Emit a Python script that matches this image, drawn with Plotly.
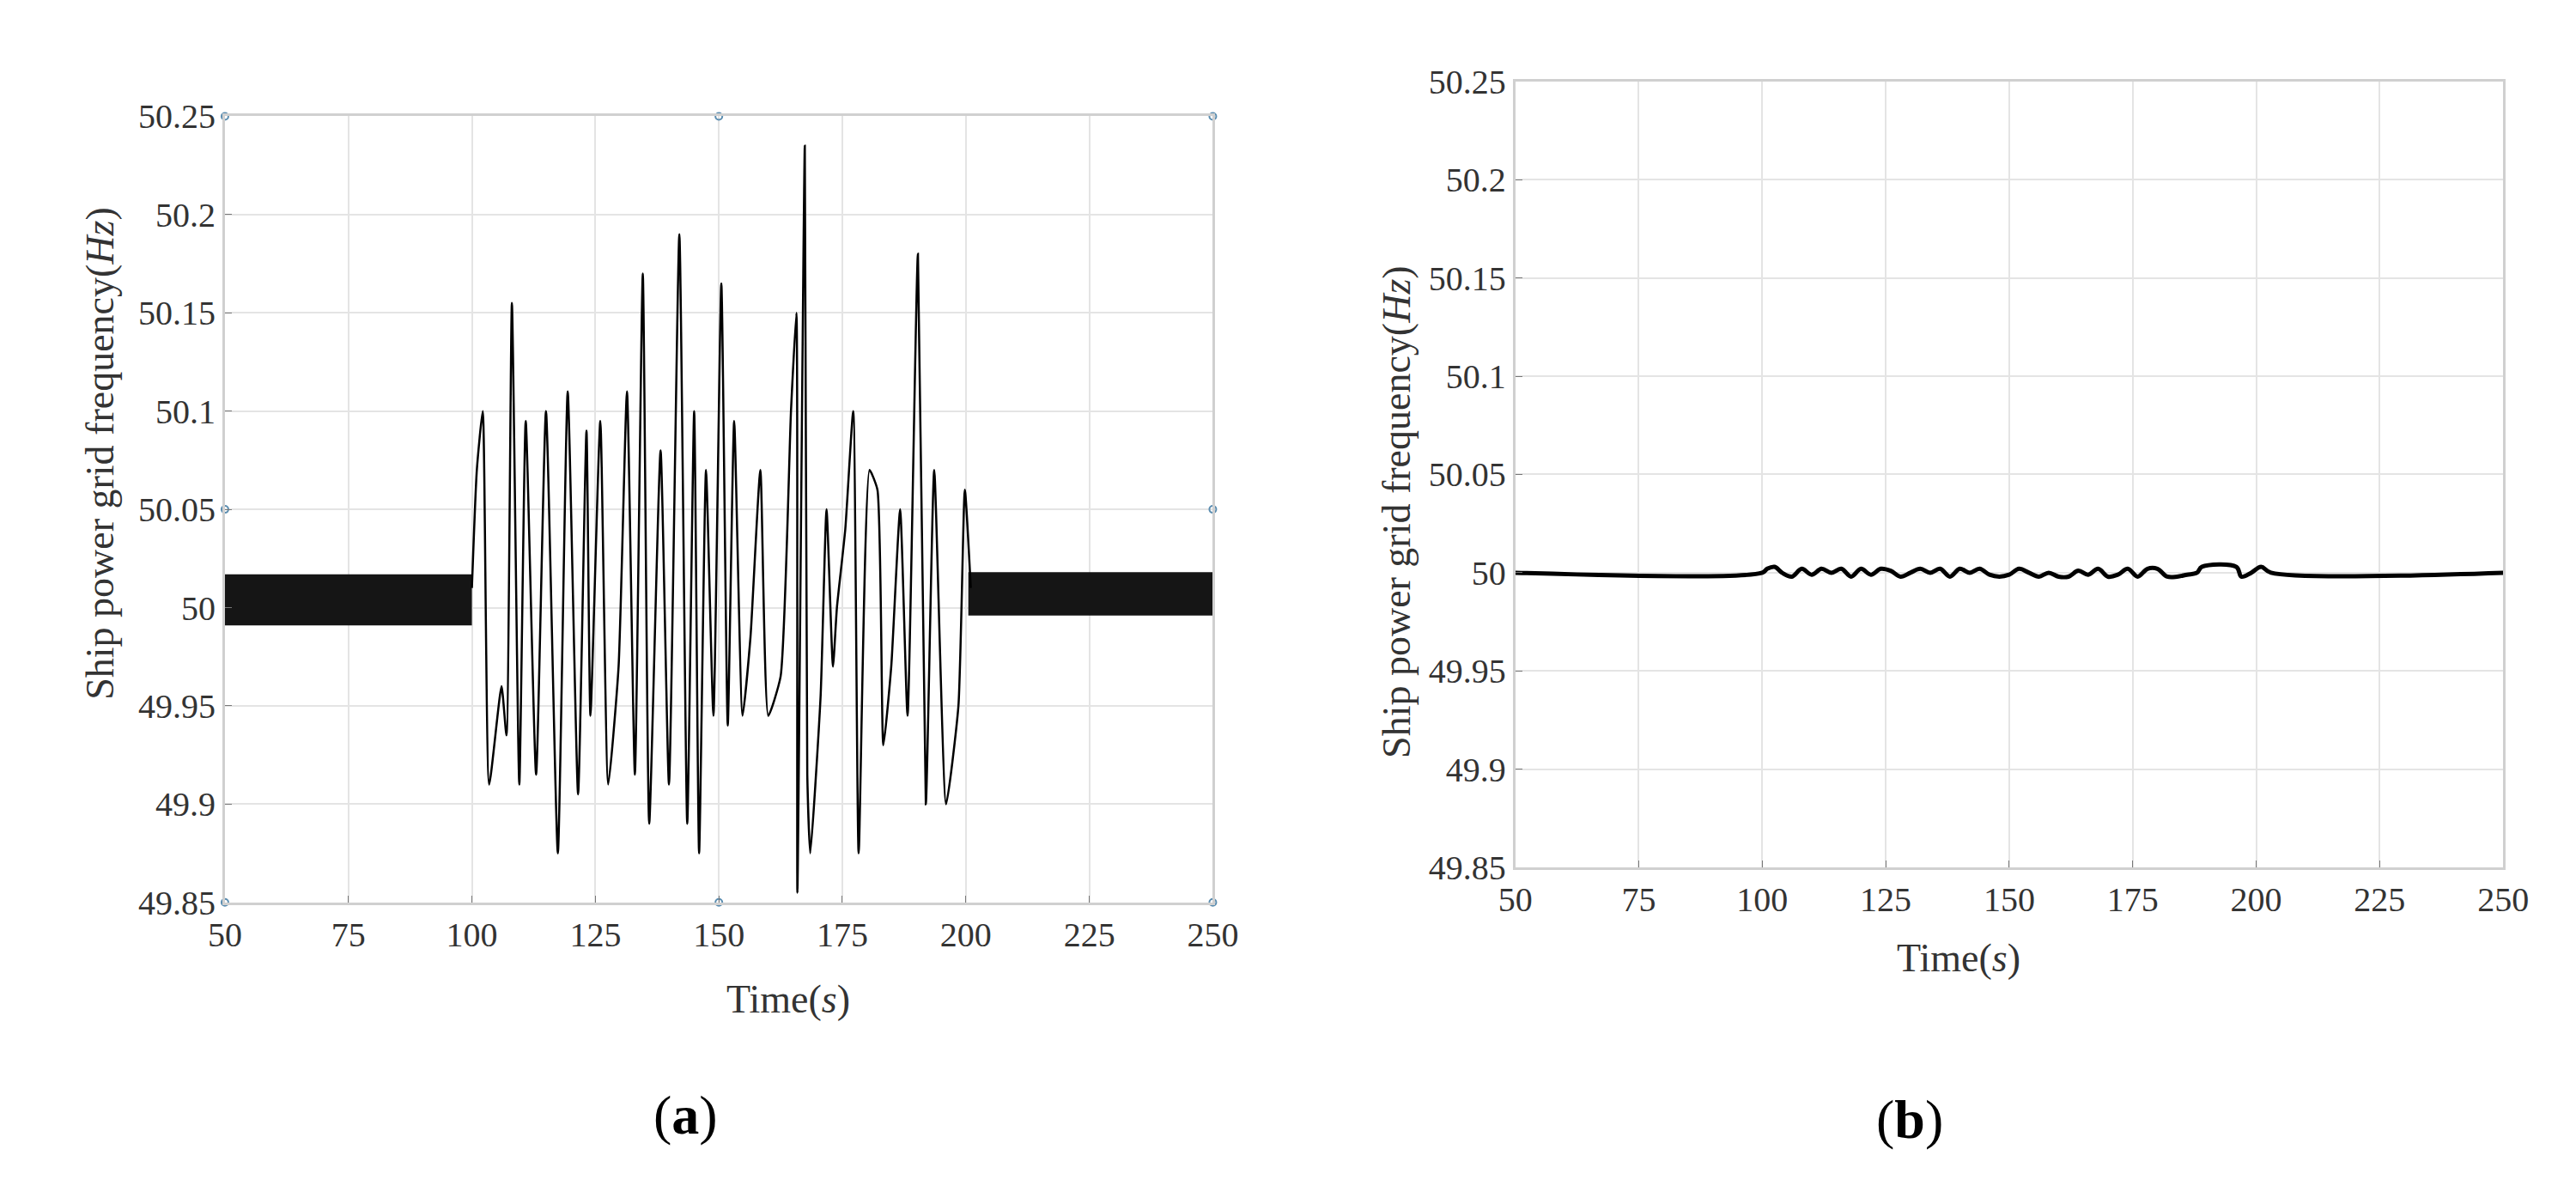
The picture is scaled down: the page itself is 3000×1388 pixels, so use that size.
import plotly.graph_objects as go

# (a) oscillating frequency, 100-200 s
t_osc = [100, 101, 102.2, 103.5, 106, 107, 108.1, 109.6, 110.9, 113, 115, 117.4, 119.4, 121.5,
         123.2, 124, 126, 127.6, 129.7, 131.4, 133, 134.6, 135.9, 138.2, 139.9, 142, 143.6, 145,
         146, 147.4, 148.9, 150.5, 151.8, 153.1, 154.8, 156.4, 158.4, 160, 162.5, 164.6, 165.7,
         165.9, 167.4, 167.9, 168.5, 170.6, 171.8, 173.1, 173.9, 175.6, 177.2, 178.3, 180.5,
         182.1, 183.3, 184.9, 186.7, 188.2, 190.3, 191.9, 193.6, 196, 198.5, 199.8, 201]
f_osc = [50.01, 50.07, 50.10, 49.91, 49.96, 49.935, 50.155, 49.91, 50.095, 49.915, 50.10, 49.875,
         50.11, 49.905, 50.09, 49.945, 50.095, 49.91, 49.97, 50.11, 49.915, 50.17, 49.89, 50.08,
         49.91, 50.19, 49.89, 50.10, 49.875, 50.07, 49.945, 50.165, 49.94, 50.095, 49.945, 49.985,
         50.07, 49.945, 49.965, 50.10, 50.15, 49.855, 50.235, 49.915, 49.875, 49.955, 50.05, 49.97,
         50.00, 50.04, 50.10, 49.875, 50.07, 50.06, 49.93, 49.97, 50.05, 49.945, 50.18, 49.90,
         50.07, 49.90, 49.95, 50.06, 50.01]

# (a) noise band envelope before/after the disturbance
band_t_pre = [50, 100]
band_hi_pre = [50.017, 50.017]
band_lo_pre = [49.991, 49.991]
band_t_post = [200.5, 250]
band_hi_post = [50.018, 50.018]
band_lo_post = [49.996, 49.996]

# (b) suppressed frequency
t_b = [50, 100, 101, 102.5, 104, 106, 108, 110, 112, 114, 116, 118, 120, 122, 124, 126, 128, 130,
       132, 134, 136, 138, 140, 142, 144, 146, 148, 150, 152, 154, 156, 158, 160, 162, 164, 166,
       168, 170, 172, 174, 176, 178, 180, 182, 184, 186, 188, 189, 196, 197, 199, 201, 203, 250]
f_b = [50.0, 50.0, 50.002, 50.003, 50.0, 49.998, 50.002, 49.999, 50.002, 50.0, 50.002, 49.998,
       50.002, 49.999, 50.002, 50.001, 49.998, 50.0, 50.002, 50.0, 50.002, 49.998, 50.002, 50.0,
       50.002, 49.999, 49.998, 49.999, 50.002, 50.0, 49.998, 50.0, 49.998, 49.998, 50.001, 49.999,
       50.002, 49.998, 49.999, 50.002, 49.998, 50.002, 50.002, 49.998, 49.998, 49.999, 50.0,
       50.003, 50.003, 49.998, 50.0, 50.003, 50.0, 50.0]

x_ticks = [50, 75, 100, 125, 150, 175, 200, 225, 250]
y_ticks = [49.85, 49.9, 49.95, 50, 50.05, 50.1, 50.15, 50.2, 50.25]
y_text = ["49.85", "49.9", "49.95", "50", "50.05", "50.1", "50.15", "50.2", "50.25"]

handle_x = [50, 150, 250, 50, 250, 50, 150, 250]
handle_y = [50.25, 50.25, 50.25, 50.05, 50.05, 49.85, 49.85, 49.85]

FONT = "Liberation Serif"
fig = go.Figure()

for tt, hi, lo in [(band_t_pre, band_hi_pre, band_lo_pre), (band_t_post, band_hi_post, band_lo_post)]:
    fig.add_trace(go.Scatter(x=tt + tt[::-1], y=hi + lo[::-1], fill="toself", fillcolor="#151515",
                             line=dict(width=0), mode="lines", xaxis="x", yaxis="y"))
fig.add_trace(go.Scatter(x=t_osc, y=f_osc, mode="lines", line=dict(color="black", width=2.5),
                         line_shape="spline", line_smoothing=0.5, xaxis="x", yaxis="y"))
fig.add_trace(go.Scatter(x=handle_x, y=handle_y, mode="markers", cliponaxis=False,
                         marker=dict(symbol="circle-open", size=8, color="#5b8db0", line=dict(width=2)),
                         xaxis="x", yaxis="y"))
fig.add_trace(go.Scatter(x=t_b, y=f_b, mode="lines", line=dict(color="black", width=5),
                         line_shape="spline", xaxis="x2", yaxis="y2"))

ax = dict(showgrid=True, gridcolor="#e4e4e4", gridwidth=2, showline=True, linecolor="#d0d0d0",
          linewidth=3, mirror=True, ticks="inside", ticklen=8, tickcolor="#777777",
          tickfont=dict(family=FONT, size=40, color="#333333"), zeroline=False)
fig.update_layout(
    width=3000, height=1388, showlegend=False, plot_bgcolor="white", paper_bgcolor="white",
    margin=dict(l=0, r=0, t=0, b=0),
    xaxis=dict(ax, domain=[0.0793, 0.4693], range=[50, 250], tickvals=x_ticks, anchor="y"),
    yaxis=dict(ax, domain=[0.2399, 0.9215], range=[49.85, 50.25], tickvals=y_ticks, ticktext=y_text, anchor="x"),
    xaxis2=dict(ax, domain=[0.5887, 0.9787], range=[50, 250], tickvals=x_ticks, anchor="y2"),
    yaxis2=dict(ax, domain=[0.2702, 0.9517], range=[49.85, 50.25], tickvals=y_ticks, ticktext=y_text, anchor="x2"),
)

def ann(text, x, y, size, angle=0, color="#333333"):
    fig.add_annotation(text=text, x=x / 3000, y=1 - y / 1388, xref="paper", yref="paper",
                       showarrow=False, textangle=angle, font=dict(family=FONT, size=size, color=color))

ann("Ship power grid frequency(<i>Hz</i>)", 62, 514, 46, -90)
ann("Ship power grid frequency(<i>Hz</i>)", 1625, 585, 46, -90)
ann("Time(<i>s</i>)", 830, 1200, 46)
ann("Time(<i>s</i>)", 2366, 1150, 46)
ann("(<b>a</b>)", 743, 1350, 64, color="black")
ann("(<b>b</b>)", 2275, 1355, 64, color="black")

fig.write_html("out.html")
